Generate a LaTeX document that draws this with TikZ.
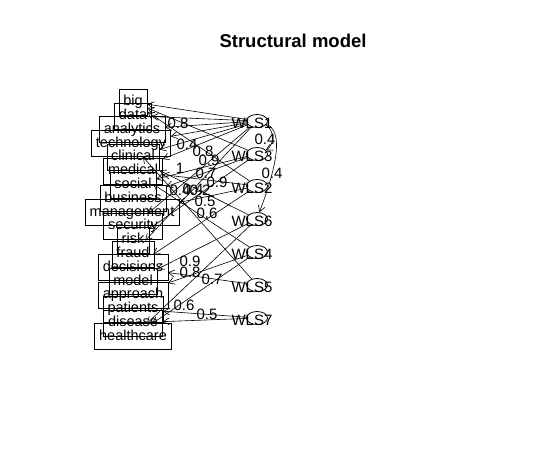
\documentclass[tikz,border=0pt]{standalone}
\usepackage{fontspec}
\setmainfont{Liberation Sans}
\usetikzlibrary{arrows.meta,shapes.geometric}

\tikzset{
	manifest/.style={draw, rectangle, inner xsep=4.5pt, inner ysep=0pt,
		minimum height=26pt, text height=10.5pt, text depth=3pt,
		font=\fontsize{14.5}{14.5}\selectfont},
	latent/.style={draw, ellipse, line width=0.8pt, inner sep=0pt, minimum width=21pt, minimum height=13pt},
	lbl/.style={inner sep=0pt, font=\fontsize{15}{15}\selectfont},
	load/.style={-{Straight Barb[length=6pt,width=7pt]}, line width=0.6pt},
}

\begin{document}
\begin{tikzpicture}[x=1pt,y=-1pt]
	\useasboundingbox (0,0) rectangle (546,458);

	% title
	\node[font=\bfseries\fontsize{18.5}{18.5}\selectfont] (title) at (293,41) {Structural model};

	% manifest variables
	\node[manifest] (big) at (133,102.0) {big};
	\node[manifest] (data) at (133,115.8) {data};
	\node[manifest] (analytics) at (132,129.6) {analytics};
	\node[manifest] (technology) at (131,143.4) {technology};
	\node[manifest] (clinical) at (133,157.2) {clinical};
	\node[manifest] (medical) at (133,171.0) {medical};
	\node[manifest] (social) at (133,184.8) {social};
	\node[manifest] (business) at (133,198.6) {business};
	\node[manifest] (management) at (132,212.4) {management};
	\node[manifest] (security) at (133,226.2) {security};
	\node[manifest] (risk) at (133,240.0) {risk};
	\node[manifest] (fraud) at (133,253.8) {fraud};
	\node[manifest] (decisions) at (133,267.6) {decisions};
	\node[manifest] (model) at (133,281.4) {model};
	\node[manifest] (approach) at (133,295.2) {approach};
	\node[manifest] (patients) at (133,309.0) {patients};
	\node[manifest] (disease) at (133,322.8) {disease};
	\node[manifest] (healthcare) at (133,336.6) {healthcare};

	% latent variables
	\node[lbl] (w1t) at (252,123) {WLS1};
	\node[lbl] (w3t) at (252,156) {WLS3};
	\node[lbl] (w2t) at (252,188) {WLS2};
	\node[lbl] (w6t) at (252,221) {WLS6};
	\node[lbl] (w4t) at (252,254) {WLS4};
	\node[lbl] (w5t) at (252,287) {WLS5};
	\node[lbl] (w7t) at (252,320) {WLS7};
	\node[latent] (w1) at (257,121) {};
	\node[latent] (w3) at (257,154) {};
	\node[latent] (w2) at (257,186) {};
	\node[latent] (w6) at (257,219) {};
	\node[latent] (w4) at (257,252) {};
	\node[latent] (w5) at (257,285) {};
	\node[latent] (w7) at (257,318) {};

	% loadings
	\draw[load] (w1) -- (big);
	\draw[load] (w1) -- (data);
	\draw[load] (w1) -- (analytics);
	\draw[load] (w1) -- (technology);
	\draw[load] (w1) -- (clinical);
	\draw[load] (w1) -- (medical);
	\draw[load] (w1) -- (security);
	\draw[load] (w1) -- (fraud);
	\draw[load] (w3) -- (big);
	\draw[load] (w3) -- (social);
	\draw[load] (w3) -- (business);
	\draw[load] (w3) -- (risk);
	\draw[load] (w2) -- (big);
	\draw[load] (w2) -- (medical);
	\draw[load] (w2) -- (management);
	\draw[load] (w2) -- (decisions);
	\draw[load] (w6) -- (clinical);
	\draw[load] (w6) -- (model);
	\draw[load] (w6) -- (healthcare);
	\draw[load] (w4) -- (medical);
	\draw[load] (w4) -- (approach);
	\draw[load] (w4) -- (healthcare);
	\draw[load] (w5) -- (technology);
	\draw[load] (w5) -- (decisions);
	\draw[load] (w7) -- (patients);
	\draw[load] (w7) -- (disease);

	% latent regressions
	\draw[load] (w1) to[out=-25,in=25] (w3);
	\draw[load] (w1) to[out=-20,in=70,looseness=0.7] (w6);

	% labels
	\node[lbl] (l1) at (178,123) {0.8};
	\node[lbl] (l2) at (187,144) {0.4};
	\node[lbl] (l3) at (203,151) {0.8};
	\node[lbl] (l4) at (209,160) {0.9};
	\node[lbl] (l5) at (180,168) {1};
	\node[lbl] (l6) at (206,173) {0.7};
	\node[lbl] (l7) at (217,182) {0.9};
	\node[lbl] (l8) at (180,190) {0.4};
	\node[lbl] (l9) at (193,189) {0.4};
	\node[lbl] (l10) at (200,190) {0.2};
	\node[lbl] (l11) at (205,201) {0.5};
	\node[lbl] (l12) at (207,213) {0.6};
	\node[lbl] (l13) at (190,261) {0.9};
	\node[lbl] (l14) at (190,272) {0.8};
	\node[lbl] (l15) at (212,279) {0.7};
	\node[lbl] (l16) at (184,305) {0.6};
	\node[lbl] (l17) at (207,314) {0.5};
	\node[lbl] (l18) at (265,139) {0.4};
	\node[lbl] (l19) at (272,173) {0.4};

\end{tikzpicture}
\end{document}
